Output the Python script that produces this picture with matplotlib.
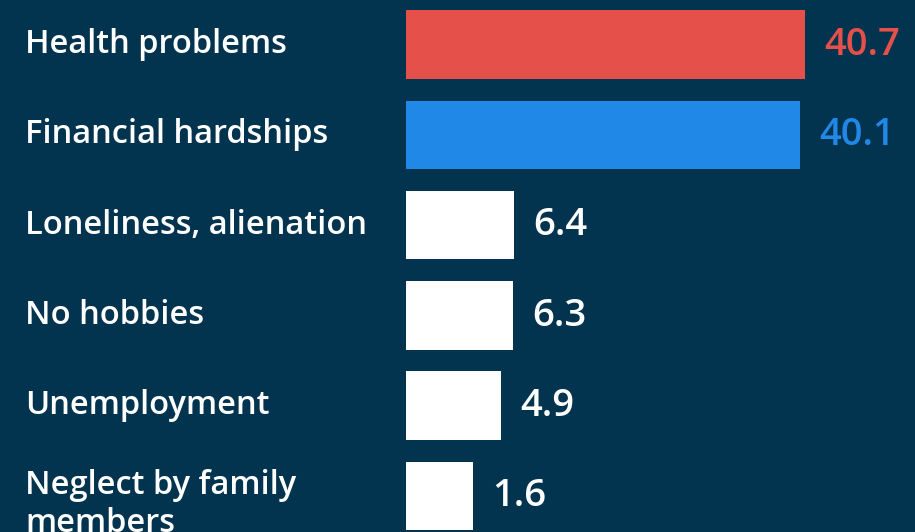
import numpy as np
import matplotlib
matplotlib.use("Agg")
import matplotlib.pyplot as plt
import matplotlib.transforms as mtransforms

# reasons given, share in percent
reasons = ["Health problems", "Financial hardships", "Loneliness, alienation",
           "No hobbies", "Unemployment", "Neglect by family\nmembers"]
shares = [40.7, 40.1, 6.4, 6.3, 4.9, 1.6]
bar_colors = ["#e5504a", "#2089e8", "#ffffff", "#ffffff", "#ffffff", "#ffffff"]
label_colors = ["#e5504a", "#2089e8", "#ffffff", "#ffffff", "#ffffff", "#ffffff"]

BG = "#02344f"
STUB = 6.3  # every bar gets a short base so the small ones stay visible

plt.rcParams["font.family"] = ["Open Sans", "DejaVu Sans"]

fig = plt.figure(figsize=(9.15, 5.32), dpi=100, facecolor=BG)
ax = fig.add_axes([0, 0, 1, 1])
ax.set_facecolor(BG)

y = np.arange(len(reasons))
vals = np.array(shares)
ax.barh(y, vals + STUB, left=-STUB, height=0.76, color=bar_colors, linewidth=0)

ax.set_xlim(-54.06, 53.59)
ax.set_ylim(5.398, -0.493)

trans = mtransforms.blended_transform_factory(ax.transAxes, ax.transData)
for yi, name in zip(y, reasons):
    # two-line label sits a bit lower in its row
    dy = -6 if "\n" in name else 0
    ax.annotate(name, (25 / 915, yi), xycoords=trans, xytext=(0, dy),
                textcoords="offset points", ha="left", va="center",
                color="white", fontsize=23.5, fontweight="semibold", linespacing=1.22)

for yi, v, c in zip(y, vals, label_colors):
    ax.annotate(f"{v:.1f}", (v, yi), xytext=(13.7, 3), textcoords="offset points",
                ha="left", va="center_baseline", color=c, fontsize=27.5, fontweight="semibold")

ax.axis("off")
fig.savefig("out.png", dpi=100, facecolor=BG)
